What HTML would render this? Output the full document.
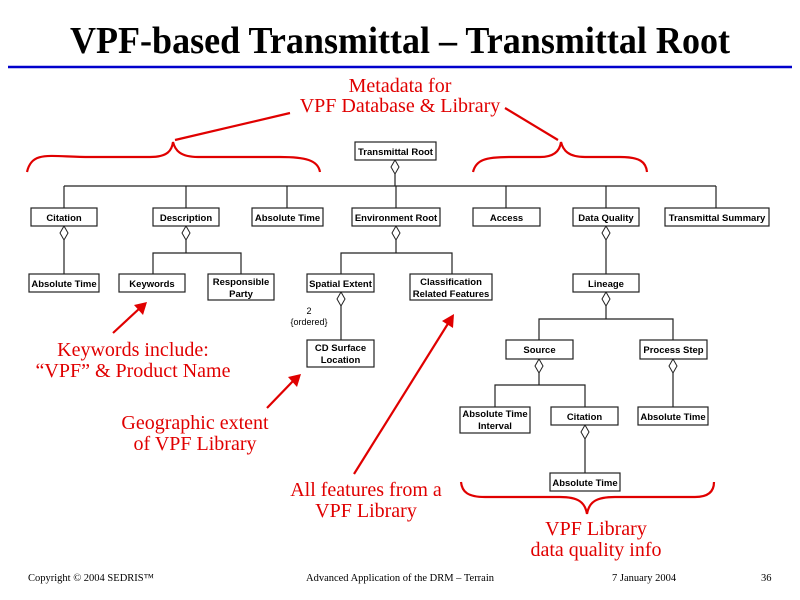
<!DOCTYPE html>
<html><head><meta charset="utf-8"><style>
html,body{margin:0;padding:0;background:#fff;}
svg{display:block;}
.b{fill:#fff;stroke:#222;stroke-width:1.2;}
.t{font-family:"Liberation Sans",sans-serif;font-weight:bold;font-size:9.5px;fill:#000;text-anchor:middle;}
.l{stroke:#222;stroke-width:1.2;fill:none;}
.d{fill:#fff;stroke:#222;stroke-width:1;}
.r{font-family:"Liberation Serif",serif;font-size:20px;fill:#e00000;text-anchor:middle;}
.rl{stroke:#e00000;stroke-width:2.2;fill:none;}
.f{font-family:"Liberation Serif",serif;font-size:10.5px;fill:#000;}
</style></head><body>
<svg width="800" height="600" viewBox="0 0 800 600" xmlns="http://www.w3.org/2000/svg">
<text x="400" y="53" text-anchor="middle" font-family="Liberation Serif,serif" font-weight="bold" font-size="38" textLength="660" lengthAdjust="spacingAndGlyphs">VPF-based Transmittal – Transmittal Root</text>
<line x1="8" y1="67" x2="792" y2="67" stroke="#0000cc" stroke-width="2.5"/>

<!-- connectors -->
<g class="l">
<line x1="395" y1="174" x2="395" y2="186"/>
<line x1="64" y1="186" x2="716" y2="186"/>
<line x1="64" y1="186" x2="64" y2="208"/>
<line x1="186" y1="186" x2="186" y2="208"/>
<line x1="287" y1="186" x2="287" y2="208"/>
<line x1="396" y1="186" x2="396" y2="208"/>
<line x1="506" y1="186" x2="506" y2="208"/>
<line x1="606" y1="186" x2="606" y2="208"/>
<line x1="716" y1="186" x2="716" y2="208"/>
<line x1="64" y1="240" x2="64" y2="274"/>
<line x1="186" y1="240" x2="186" y2="253"/>
<polyline points="153,274 153,253 241,253 241,274"/>
<line x1="396" y1="240" x2="396" y2="253"/>
<polyline points="341,274 341,253 452,253 452,274"/>
<line x1="341" y1="306" x2="341" y2="340"/>
<line x1="606" y1="240" x2="606" y2="274"/>
<line x1="606" y1="306" x2="606" y2="319"/>
<polyline points="539,340 539,319 673,319 673,340"/>
<line x1="539" y1="373" x2="539" y2="385"/>
<polyline points="495,407 495,385 585,385 585,407"/>
<line x1="673" y1="373" x2="673" y2="407"/>
<line x1="585" y1="439" x2="585" y2="473"/>
</g>
<!-- diamonds -->
<g class="d">
<polygon points="395,160 399,167 395,174 391,167"/>
<polygon points="64,226 68,233 64,240 60,233"/>
<polygon points="186,226 190,233 186,240 182,233"/>
<polygon points="396,226 400,233 396,240 392,233"/>
<polygon points="606,226 610,233 606,240 602,233"/>
<polygon points="341,292 345,299 341,306 337,299"/>
<polygon points="606,292 610,299 606,306 602,299"/>
<polygon points="539,359 543,366 539,373 535,366"/>
<polygon points="673,359 677,366 673,373 669,366"/>
<polygon points="585,425 589,432 585,439 581,432"/>
</g>
<!-- boxes -->
<g>
<rect class="b" x="355" y="142" width="81" height="18"/><text class="t" x="395.5" y="155">Transmittal Root</text>
<rect class="b" x="31" y="208" width="66" height="18"/><text class="t" x="64" y="221">Citation</text>
<rect class="b" x="153" y="208" width="66" height="18"/><text class="t" x="186" y="221">Description</text>
<rect class="b" x="252" y="208" width="71" height="18"/><text class="t" x="287.5" y="221">Absolute Time</text>
<rect class="b" x="352" y="208" width="88" height="18"/><text class="t" x="396" y="221">Environment Root</text>
<rect class="b" x="473" y="208" width="67" height="18"/><text class="t" x="506.5" y="221">Access</text>
<rect class="b" x="573" y="208" width="66" height="18"/><text class="t" x="606" y="221">Data Quality</text>
<rect class="b" x="665" y="208" width="104" height="18"/><text class="t" x="717" y="221">Transmittal Summary</text>
<rect class="b" x="29" y="274" width="70" height="18"/><text class="t" x="64" y="287">Absolute Time</text>
<rect class="b" x="119" y="274" width="66" height="18"/><text class="t" x="152" y="287">Keywords</text>
<rect class="b" x="208" y="274" width="66" height="26"/><text class="t" x="241" y="285">Responsible</text><text class="t" x="241" y="297">Party</text>
<rect class="b" x="307" y="274" width="67" height="18"/><text class="t" x="340.5" y="287">Spatial Extent</text>
<rect class="b" x="410" y="274" width="82" height="26"/><text class="t" x="451" y="285">Classification</text><text class="t" x="451" y="297">Related Features</text>
<rect class="b" x="573" y="274" width="66" height="18"/><text class="t" x="606" y="287">Lineage</text>
<rect class="b" x="307" y="340" width="67" height="27"/><text class="t" x="340.5" y="351">CD Surface</text><text class="t" x="340.5" y="363">Location</text>
<rect class="b" x="506" y="340" width="67" height="19"/><text class="t" x="539.5" y="353">Source</text>
<rect class="b" x="640" y="340" width="67" height="19"/><text class="t" x="673.5" y="353">Process Step</text>
<rect class="b" x="460" y="407" width="70" height="26"/><text class="t" x="495" y="417">Absolute Time</text><text class="t" x="495" y="429">Interval</text>
<rect class="b" x="551" y="407" width="67" height="18"/><text class="t" x="584.5" y="420">Citation</text>
<rect class="b" x="638" y="407" width="70" height="18"/><text class="t" x="673" y="420">Absolute Time</text>
<rect class="b" x="550" y="473" width="70" height="18"/><text class="t" x="585" y="486">Absolute Time</text>
</g>
<text x="309" y="314" font-family="Liberation Sans,sans-serif" font-size="9" text-anchor="middle">2</text>
<text x="309" y="325" font-family="Liberation Sans,sans-serif" font-size="9" text-anchor="middle">{ordered}</text>

<!-- red annotations -->
<text class="r" x="400" y="92">Metadata for</text>
<text class="r" x="400" y="112">VPF Database &amp; Library</text>
<path class="rl" d="M27,172 C32,150 50,157 90,157 L150,157 C168,157 172,150 173,142 C175,150 180,157 198,157 L280,157 C305,157 318,160 320,172"/>
<path class="rl" d="M473,172 C476,160 485,157 510,157 L540,157 C555,157 560,150 561,142 C563,150 568,157 585,157 L620,157 C640,157 646,162 647,172"/>
<line class="rl" x1="290" y1="113" x2="175" y2="140"/>
<line class="rl" x1="505" y1="108" x2="558" y2="140"/>

<text class="r" x="133" y="356">Keywords include:</text>
<text class="r" x="133" y="377">“VPF” &amp; Product Name</text>
<text class="r" x="195" y="429">Geographic extent</text>
<text class="r" x="195" y="450">of VPF Library</text>
<text class="r" x="366" y="496">All features from a</text>
<text class="r" x="366" y="517">VPF Library</text>
<text class="r" x="596" y="535">VPF Library</text>
<text class="r" x="596" y="556">data quality info</text>

<g fill="#e00000">
<line class="rl" x1="113" y1="333" x2="140" y2="308"/><polygon points="147,302 143,315 134,305"/>
<line class="rl" x1="267" y1="408" x2="294" y2="380"/><polygon points="301,374 297,387 288,377"/>
<line class="rl" x1="354" y1="474" x2="449" y2="322"/><polygon points="454,314 453,328 442,321"/>
</g>
<path class="rl" d="M461,482 C462,492 468,497 485,497 L560,497 C578,497 585,502 587,514 C589,502 596,497 615,497 L695,497 C710,497 714,490 714,482"/>

<text class="f" x="28" y="581">Copyright © 2004 SEDRIS™</text>
<text class="f" x="400" y="581" text-anchor="middle">Advanced Application of the DRM – Terrain</text>
<text class="f" x="612" y="581">7 January 2004</text>
<text class="f" x="761" y="581">36</text>
</svg>
</body></html>
